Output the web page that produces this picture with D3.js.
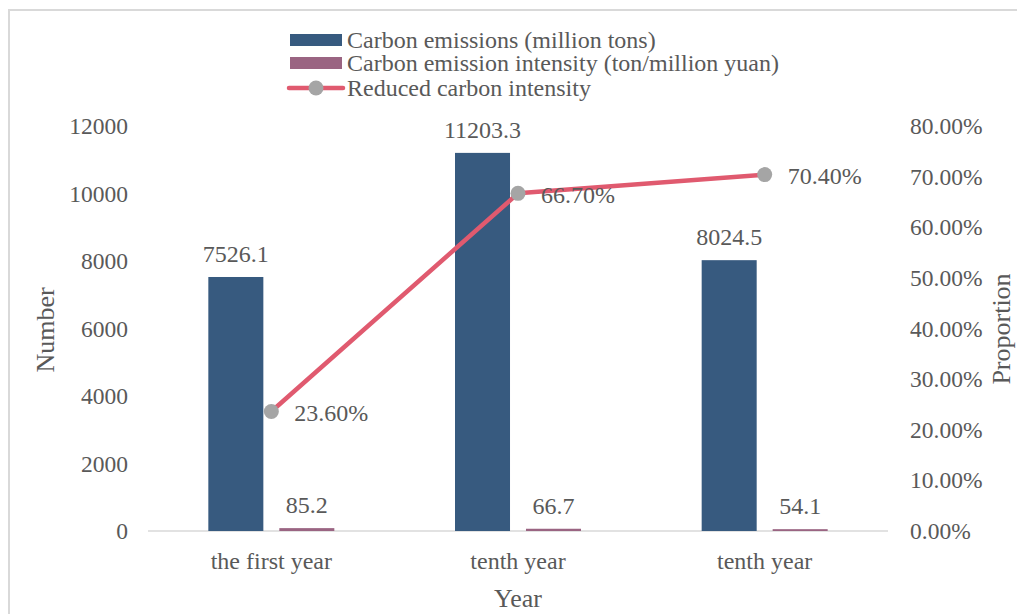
<!DOCTYPE html>
<html>
<head>
<meta charset="utf-8">
<script src="https://cdnjs.cloudflare.com/ajax/libs/d3/7.8.5/d3.min.js"></script>
<style>
  html, body { margin: 0; padding: 0; background: #fff; }
  svg { display: block; }
  text { font-family: "Liberation Serif", "Times New Roman", serif; fill: #595959; }
</style>
</head>
<body>
<svg id="chart" width="1017" height="614"></svg>
<script>
// ---- data ----
const categories = ["the first year", "tenth year", "tenth year"];
const carbonEmissions = [7526.1, 11203.3, 8024.5];
const carbonIntensity = [85.2, 66.7, 54.1];
const reducedIntensity = [0.236, 0.667, 0.704];
const leftTicks = [0, 2000, 4000, 6000, 8000, 10000, 12000];
const rightTicks = [0, 0.1, 0.2, 0.3, 0.4, 0.5, 0.6, 0.7, 0.8];
const seriesNames = ["Carbon emissions (million tons)", "Carbon emission intensity (ton/million yuan)", "Reduced carbon intensity"];

const colors = { emis: "#375A7F", inten: "#9A6482", line: "#E05A6F", marker: "#A5A5A5", text: "#595959", grid: "#D9D9D9" };

const svg = d3.select("#chart");
const W = 1017, H = 614;
const plot = { left: 148, right: 888, top: 126, bottom: 531 };

// border
svg.append("rect").attr("x", 9).attr("y", 10).attr("width", W + 20).attr("height", H + 20)
  .attr("fill", "#fff").attr("stroke", colors.grid).attr("stroke-width", 2);

const x0 = d3.scaleBand().domain(d3.range(categories.length)).range([plot.left, plot.right]).padding(0);
const groupW = 126;
const groupOff = (x0.bandwidth() - groupW) / 2;
const x1 = d3.scaleBand().domain(["emis", "inten"]).range([groupOff, groupOff + groupW]).paddingInner(0.225).paddingOuter(0);
const yL = d3.scaleLinear().domain([0, 12000]).range([plot.bottom, plot.top]);
const yR = d3.scaleLinear().domain([0, 0.8]).range([plot.bottom, plot.top]);

const FS = 24, TFS = 23.5;

// axes
const axL = svg.append("g").attr("transform", `translate(${plot.left},0)`)
  .call(d3.axisLeft(yL).tickValues(leftTicks).tickSize(0).tickPadding(20).tickFormat(d3.format("d")));
const axR = svg.append("g").attr("transform", `translate(${plot.right},0)`)
  .call(d3.axisRight(yR).tickValues(rightTicks).tickSize(0).tickPadding(22).tickFormat(d3.format(".2%")));
const axB = svg.append("g").attr("transform", `translate(0,${plot.bottom})`)
  .call(d3.axisBottom(x0).tickSize(0).tickPadding(21).tickFormat(i => categories[i]));
[axL, axR, axB].forEach(a => {
  a.attr("font-family", null);
  a.select(".domain").remove();
  a.selectAll("text").attr("font-size", TFS).attr("fill", colors.text)
    .style("font-family", '"Liberation Serif", serif');
});
axB.selectAll("text").attr("font-size", FS).attr("dy", "0.71em");

// baseline
svg.append("line").attr("x1", plot.left).attr("x2", plot.right)
  .attr("y1", yL(0)).attr("y2", yL(0)).attr("stroke", colors.grid).attr("stroke-width", 1.5);

// bars
const g = svg.append("g");
categories.forEach((c, i) => {
  const gx = x0(i);
  g.append("rect").attr("x", gx + x1("emis")).attr("width", x1.bandwidth())
    .attr("y", yL(carbonEmissions[i])).attr("height", yL(0) - yL(carbonEmissions[i]))
    .attr("fill", colors.emis);
  g.append("rect").attr("x", gx + x1("inten")).attr("width", x1.bandwidth())
    .attr("y", yL(carbonIntensity[i])).attr("height", yL(0) - yL(carbonIntensity[i]))
    .attr("fill", colors.inten);
  g.append("text").attr("x", gx + x1("emis") + x1.bandwidth() / 2).attr("y", yL(carbonEmissions[i]) - 15)
    .attr("text-anchor", "middle").attr("font-size", FS).text(carbonEmissions[i].toFixed(1));
  g.append("text").attr("x", gx + x1("inten") + x1.bandwidth() / 2).attr("y", yL(carbonIntensity[i]) - 15)
    .attr("text-anchor", "middle").attr("font-size", FS).text(carbonIntensity[i].toFixed(1));
});

// line
const cx = i => x0(i) + x0.bandwidth() / 2;
const line = d3.line().x((d, i) => cx(i)).y(d => yR(d));
svg.append("path").datum(reducedIntensity).attr("d", line)
  .attr("fill", "none").attr("stroke", colors.line).attr("stroke-width", 4.5).attr("stroke-linejoin", "round");
svg.selectAll("circle.pt").data(reducedIntensity).enter().append("circle")
  .attr("cx", (d, i) => cx(i)).attr("cy", d => yR(d)).attr("r", 7.5).attr("fill", colors.marker);
svg.selectAll("text.pl").data(reducedIntensity).enter().append("text")
  .attr("x", (d, i) => cx(i) + 23).attr("y", d => yR(d) + 9.5)
  .attr("font-size", FS).text(d => d3.format(".2%")(d));

// axis titles
svg.append("text").attr("transform", `translate(54,330) rotate(-90)`).attr("text-anchor", "middle")
  .attr("font-size", 26).text("Number");
svg.append("text").attr("transform", `translate(1010,329) rotate(-90)`).attr("text-anchor", "middle")
  .attr("font-size", 26).text("Proportion");
svg.append("text").attr("x", 518).attr("y", 607).attr("text-anchor", "middle")
  .attr("font-size", 26).text("Year");

// legend
const lg = svg.append("g");
const rowsY = [40, 63, 88];
lg.append("rect").attr("x", 290).attr("y", rowsY[0] - 6).attr("width", 52).attr("height", 12).attr("fill", colors.emis);
lg.append("rect").attr("x", 290).attr("y", rowsY[1] - 6).attr("width", 52).attr("height", 12).attr("fill", colors.inten);
lg.append("line").attr("x1", 289).attr("x2", 343).attr("y1", rowsY[2]).attr("y2", rowsY[2])
  .attr("stroke", colors.line).attr("stroke-width", 4.5).attr("stroke-linecap", "round");
lg.append("circle").attr("cx", 316).attr("cy", rowsY[2]).attr("r", 7.5).attr("fill", colors.marker);
seriesNames.forEach((n, i) => {
  lg.append("text").attr("x", 347).attr("y", rowsY[i]).attr("dy", "0.33em").attr("font-size", FS).text(n);
});
</script>
</body>
</html>
